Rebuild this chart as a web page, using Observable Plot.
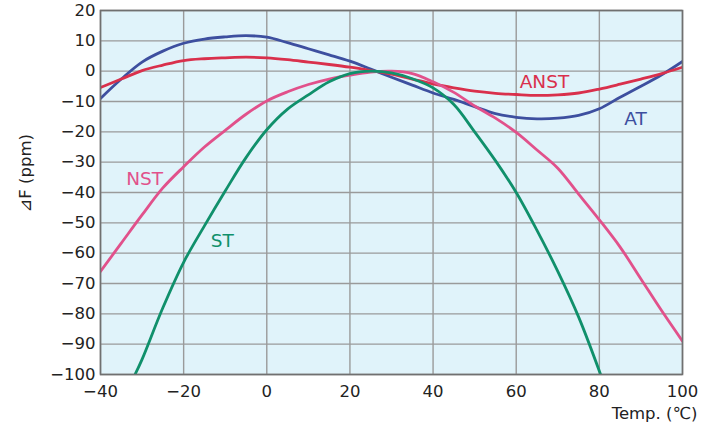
<!DOCTYPE html>
<html>
<head>
<meta charset="utf-8">
<script src="https://cdn.jsdelivr.net/npm/d3@7"></script>
<script src="https://cdn.jsdelivr.net/npm/@observablehq/plot@0.6"></script>
<style>
  html, body { margin: 0; padding: 0; background: #fff; }
  #chart svg { display: block; }
</style>
</head>
<body>
<div id="chart"></div>
<script>
// Temperatures (°C) for AT, ANST, NST
const temps = [-40,-35,-30,-25,-20,-15,-10,-5,0,5,10,15,20,25,30,35,40,45,50,55,60,65,70,75,80,85,90,95,100];
const atValues   = [-9,-2.6,3,6.6,9.2,10.6,11.3,11.7,11.2,9.4,7.4,5.4,3.3,0.7,-2,-4.6,-7.2,-9.3,-11.7,-14,-15.2,-15.7,-15.5,-14.6,-12.4,-8.6,-5,-1.2,3.2];
const anstValues = [-5.4,-2.6,0.2,2,3.5,4.1,4.4,4.6,4.4,3.8,3,2.2,1.3,0.2,-1,-2.6,-4.2,-5.5,-6.6,-7.3,-7.7,-8,-7.8,-7.2,-5.9,-4.3,-2.6,-0.8,1.3];
const nstValues  = [-66,-56.7,-47.4,-38.5,-31.5,-25,-19.5,-14.2,-9.8,-6.8,-4.4,-2.6,-1.3,-0.3,0,-0.8,-3.5,-7,-11.5,-15.5,-20.2,-26,-32,-40.5,-49,-58,-68.5,-79,-89];
// ST curve (points where it was read)
const stTemps  = [-31.7,-30,-25,-20,-15,-10,-5,0,5,10,15,20,25,30,35,40,45,50,55,60,65,70,75,80.3];
const stValues = [-100,-95,-78,-63,-51,-39.5,-28.5,-19.3,-12.5,-7.8,-3.5,-0.8,0,-0.6,-2.5,-5.5,-11,-20,-29.5,-40,-52.5,-66,-81,-100];

const xTicks = [-40,-20,0,20,40,60,80,100];
const yTicks = [20,10,0,-10,-20,-30,-40,-50,-60,-70,-80,-90,-100];

const seriesNames  = ["AT","ANST","NST","ST"];
const seriesColors = ["#3d4f9f","#d9304c","#e1518b","#10906b"];
const labelX = [88.7, 66.8, -29.4, -10.7];
const labelY = [-15.7, -3.6, -35.5, -56];

const rows = [];
temps.forEach((t,i) => {
  rows.push({series:"AT", t, v: atValues[i]});
  rows.push({series:"ANST", t, v: anstValues[i]});
  rows.push({series:"NST", t, v: nstValues[i]});
});
stTemps.forEach((t,i) => rows.push({series:"ST", t, v: stValues[i]}));

const labels = seriesNames.map((s,i) => ({series: s, x: labelX[i], y: labelY[i]}));

const chart = Plot.plot({
  width: 713,
  height: 429,
  marginLeft: 100,
  marginRight: 31,
  marginTop: 10,
  marginBottom: 55,
  style: {fontFamily: "'DejaVu Sans', 'Noto Sans CJK JP', sans-serif", fontSize: "16.5px", color: "#222", background: "#fff"},
  x: {domain: [-40, 100]},
  y: {domain: [-100, 20]},
  color: {domain: seriesNames, range: seriesColors},
  marks: [
    Plot.frame({fill: "#e0f3fa", stroke: null}),
    Plot.gridX(xTicks, {stroke: "#9a9a9a", strokeOpacity: 1, strokeWidth: 1.4}),
    Plot.gridY(yTicks, {stroke: "#9a9a9a", strokeOpacity: 1, strokeWidth: 1.4}),
    Plot.line(rows, {x: "t", y: "v", z: "series", stroke: "series", strokeWidth: 2.8, curve: "catmull-rom", clip: true}),
    Plot.frame({stroke: "#707070", strokeWidth: 1.6}),
    Plot.text(labels, {x: "x", y: "y", text: "series", fill: "series", fontSize: 18.5}),
    Plot.axisX({ticks: xTicks, tickSize: 0, tickPadding: 11, label: null}),
    Plot.axisY({ticks: yTicks, tickSize: 0, tickPadding: 5, label: null}),
    Plot.text(["Temp. (℃)"], {frameAnchor: "bottom-right", text: d => d, dx: 15, dy: 44, textAnchor: "end", fontSize: 16.5, fill: "#222"}),
    Plot.text(["⊿F (ppm)"], {frameAnchor: "left", text: d => d, dx: -75, dy: 20, rotate: -90, fontSize: 16.5, fill: "#222"})
  ]
});
document.getElementById("chart").appendChild(chart);
</script>
</body>
</html>
